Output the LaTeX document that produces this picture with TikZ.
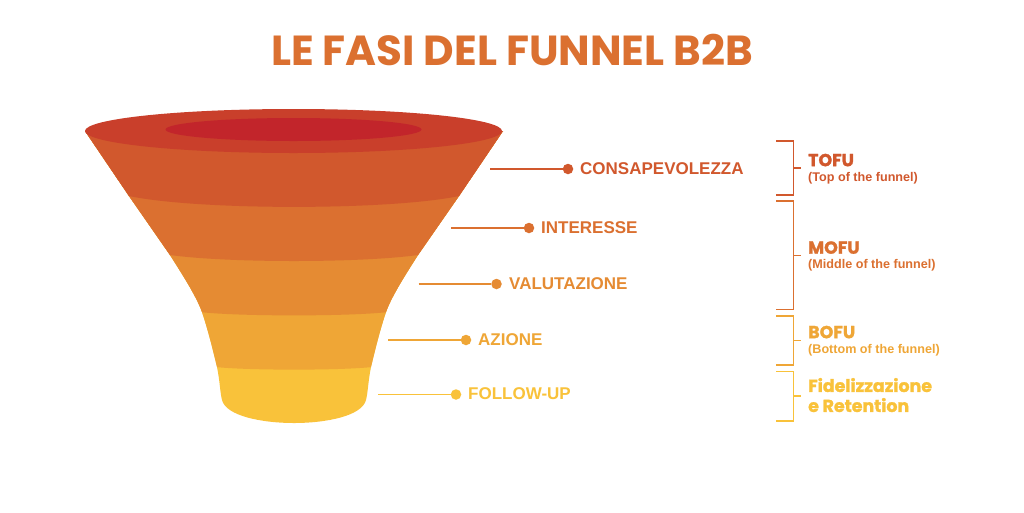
\documentclass[tikz,border=0pt]{standalone}
\usepackage{fontspec}
\setmainfont{Liberation Sans}
\newfontfamily\pop{Poppins}
\newfontfamily\pophv[BoldFeatures={FakeBold=1.4}]{Poppins}
\definecolor{cRim}{HTML}{C93F2B}
\definecolor{cIn}{HTML}{C2252B}
\definecolor{cA}{HTML}{D1582D}
\definecolor{cB}{HTML}{DB7030}
\definecolor{cC}{HTML}{E58B33}
\definecolor{cD}{HTML}{EFA636}
\definecolor{cE}{HTML}{F9C23A}
\tikzset{
 stagetxt/.style={anchor=west,inner sep=0pt,text depth=0pt,font=\bfseries\fontsize{17}{19}\selectfont},
 headtxt/.style={anchor=west,inner sep=0pt,text depth=0pt,font=\pophv\bfseries\fontsize{17.4}{20}\selectfont},
 subtxt/.style={anchor=west,inner sep=0pt,text depth=0pt,font=\bfseries\fontsize{12.6}{14}\selectfont},
 dot/.style={circle,inner sep=0pt,minimum size=10.5pt},
 leader/.style={line width=1.1pt},
 brak/.style={line width=1.1pt},
}
\begin{document}
\begin{tikzpicture}[x=1pt,y=-1pt]
\useasboundingbox (0,0) rectangle (1024,512);
\fill[white] (0,0) rectangle (1024,512);
\node[inner sep=0pt,text=cB,font=\pop\bfseries\fontsize{42}{46}\selectfont] (title) at (512,50) {LE FASI DEL FUNNEL B2B};
% funnel
\begin{scope}
\clip (85,131) -- (129,196) -- (170,255)
  .. controls (186,280) and (197,298) .. (202,312)
  .. controls (208,330) and (213,350) .. (217,367)
  .. controls (220,382) and (220,392) .. (222,400)
  .. controls (226,416) and (262,423) .. (294,423)
  .. controls (326,423) and (362,416) .. (366,400)
  .. controls (368,392) and (368,382) .. (371,367)
  .. controls (375,350) and (380,330) .. (386,312)
  .. controls (391,298) and (402,280) .. (418,255)
  -- (459,196) -- (503,131) -- cycle;
\fill[cE] (60,100) rectangle (530,430);
\fill[cD] (60,100) -- (530,100) -- (530,367) -- (372,367) .. controls (340,370.5) and (248,370.5) .. (216,367) -- (60,367) -- cycle;
\fill[cC] (60,100) -- (530,100) -- (530,312) -- (388,312) .. controls (350,316.5) and (238,316.5) .. (200,312) -- (60,312) -- cycle;
\fill[cB] (60,100) -- (530,100) -- (530,255) -- (418,255) .. controls (360,263) and (228,263) .. (170,255) -- (60,255) -- cycle;
\fill[cA] (60,100) -- (530,100) -- (530,196) -- (459,196) .. controls (390,210.5) and (198,210.5) .. (129,196) -- (60,196) -- cycle;
\end{scope}
\fill[cRim] (293.5,131) ellipse [x radius=208.5,y radius=22];
\fill[cIn] (293.5,129.5) ellipse [x radius=128,y radius=11.5];
% stages
\coordinate (s1) at (490,169);
\coordinate (s2) at (451,228);
\coordinate (s3) at (418.5,284);
\coordinate (s4) at (388,340);
\coordinate (s5) at (378,394.5);
\node[dot,fill=cA] (d1) at (568,169) {};
\node[dot,fill=cB] (d2) at (529,228) {};
\node[dot,fill=cC] (d3) at (496.5,284) {};
\node[dot,fill=cD] (d4) at (466,340) {};
\node[dot,fill=cE] (d5) at (456,394.5) {};
\draw[leader,cA] (s1) -- (d1);
\draw[leader,cB] (s2) -- (d2);
\draw[leader,cC] (s3) -- (d3);
\draw[leader,cD] (s4) -- (d4);
\draw[leader,cE] (s5) -- (d5);
\node[stagetxt,text=cA] (t1) at (580,169) {CONSAPEVOLEZZA};
\node[stagetxt,text=cB] (t2) at (541,227.5) {INTERESSE};
\node[stagetxt,text=cC] (t3) at (509,284) {VALUTAZIONE};
\node[stagetxt,text=cD] (t4) at (478,339.5) {AZIONE};
\node[stagetxt,text=cE] (t5) at (468,394) {FOLLOW-UP};
% brackets
\coordinate (b1a) at (776,141); \coordinate (b1b) at (776,195);
\coordinate (b2a) at (776,201); \coordinate (b2b) at (776,309.5);
\coordinate (b3a) at (776,316); \coordinate (b3b) at (776,365);
\coordinate (b4a) at (776,371.5); \coordinate (b4b) at (776,421);
\draw[brak,cA] (b1a) -| (793.5,195) -- (b1b) (793.5,168) -- (801,168);
\draw[brak,cB] (b2a) -| (793.5,309.5) -- (b2b) (793.5,255.5) -- (801,255.5);
\draw[brak,cD] (b3a) -| (793.5,365) -- (b3b) (793.5,340.5) -- (801,340.5);
\draw[brak,cE] (b4a) -| (793.5,421) -- (b4b) (793.5,396) -- (801,396);
\node[headtxt,text=cA] (h1) at (808,160) {TOFU};
\node[subtxt,text=cA] (p1) at (808,177) {(Top of the funnel)};
\node[headtxt,text=cB] (h2) at (808,247.5) {MOFU};
\node[subtxt,text=cB] (p2) at (808,264) {(Middle of the funnel)};
\node[headtxt,text=cD] (h3) at (808,332) {BOFU};
\node[subtxt,text=cD] (p3) at (808,349) {(Bottom of the funnel)};
\node[headtxt,text=cE] (h4) at (808,385) {Fidelizzazione};
\node[headtxt,text=cE] (h5) at (808,405) {e Retention};
\end{tikzpicture}
\end{document}
